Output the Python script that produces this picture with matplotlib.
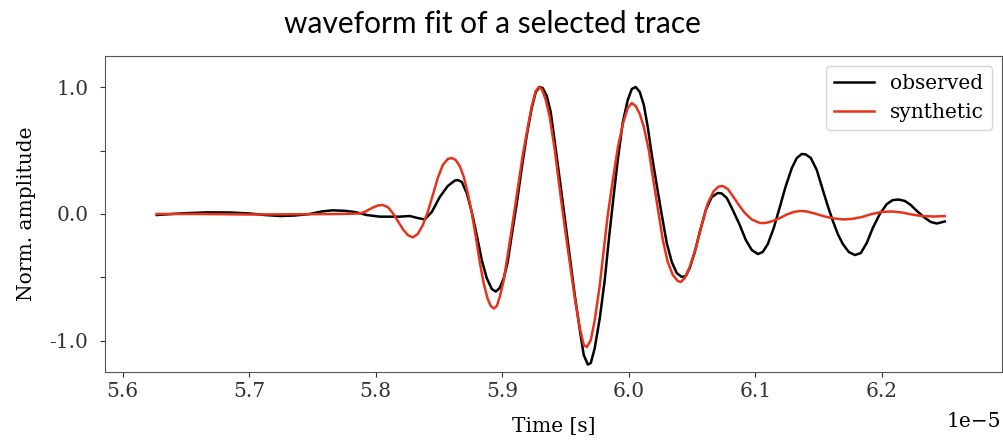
import numpy as np
import matplotlib
matplotlib.use("Agg")
import matplotlib.pyplot as plt

plt.rcParams['font.family'] = ['DejaVu Serif']

# time in units of 1e-5 s, amplitude normalised
t_obs = np.array([5.6269, 5.6451, 5.6664, 5.6846, 5.7004, 5.7123, 5.7241, 5.7360,
                  5.7478, 5.7573, 5.7660, 5.7755, 5.7834, 5.7929, 5.8032, 5.8190,
                  5.8269, 5.8332, 5.8387, 5.8443, 5.8506, 5.8569, 5.8625, 5.8648,
                  5.8680, 5.8719, 5.8759, 5.8798, 5.8838, 5.8877, 5.8917, 5.8949,
                  5.8980, 5.9012, 5.9043, 5.9075, 5.9115, 5.9154, 5.9194, 5.9233,
                  5.9265, 5.9296, 5.9320, 5.9352, 5.9383, 5.9415, 5.9455, 5.9494,
                  5.9534, 5.9573, 5.9613, 5.9644, 5.9676, 5.9700, 5.9731, 5.9771,
                  5.9810, 5.9842, 5.9874, 5.9913, 5.9953, 5.9992, 6.0024, 6.0055,
                  6.0087, 6.0119, 6.0150, 6.0182, 6.0221, 6.0261, 6.0300, 6.0340,
                  6.0379, 6.0419, 6.0451, 6.0482, 6.0522, 6.0561, 6.0609, 6.0656,
                  6.0704, 6.0735, 6.0775, 6.0822, 6.0877, 6.0925, 6.0972, 6.1020,
                  6.1059, 6.1099, 6.1146, 6.1194, 6.1241, 6.1289, 6.1328, 6.1368,
                  6.1399, 6.1439, 6.1486, 6.1534, 6.1573, 6.1613, 6.1652, 6.1692,
                  6.1739, 6.1787, 6.1834, 6.1881, 6.1929, 6.1984, 6.2040, 6.2087,
                  6.2134, 6.2182, 6.2229, 6.2277, 6.2332, 6.2387, 6.2435, 6.2466,
                  6.2498])
a_obs = np.array([-0.008, 0.004, 0.013, 0.012, 0.004, -0.008, -0.016, -0.012,
                  0.000, 0.020, 0.029, 0.025, 0.016, -0.008, -0.021, -0.021,
                  -0.016, -0.032, -0.043, 0.016, 0.134, 0.221, 0.264, 0.268,
                  0.253, 0.166, 0.016, -0.166, -0.363, -0.505, -0.592, -0.612,
                  -0.584, -0.505, -0.379, -0.166, 0.087, 0.363, 0.624, 0.837,
                  0.963, 1.002, 0.994, 0.931, 0.805, 0.568, 0.268, -0.032,
                  -0.339, -0.639, -0.916, -1.113, -1.188, -1.176, -1.058, -0.821,
                  -0.521, -0.205, 0.087, 0.426, 0.726, 0.900, 0.987, 1.002,
                  0.963, 0.860, 0.687, 0.466, 0.229, -0.008, -0.229, -0.379,
                  -0.466, -0.497, -0.489, -0.426, -0.300, -0.142, 0.032, 0.134,
                  0.166, 0.162, 0.126, 0.032, -0.087, -0.205, -0.284, -0.316,
                  -0.300, -0.237, -0.110, 0.055, 0.221, 0.363, 0.442, 0.474,
                  0.470, 0.442, 0.347, 0.189, 0.063, -0.055, -0.158, -0.237,
                  -0.300, -0.324, -0.308, -0.229, -0.110, 0.000, 0.079, 0.110,
                  0.114, 0.103, 0.071, 0.024, -0.024, -0.063, -0.075, -0.067,
                  -0.059])

t_syn = np.array([5.6269, 5.6609, 5.7004, 5.7399, 5.7715, 5.7874, 5.7921, 5.7968,
                  5.8016, 5.8055, 5.8095, 5.8134, 5.8174, 5.8213, 5.8253, 5.8292,
                  5.8332, 5.8372, 5.8411, 5.8451, 5.8490, 5.8530, 5.8569, 5.8601,
                  5.8632, 5.8664, 5.8696, 5.8727, 5.8759, 5.8791, 5.8822, 5.8854,
                  5.8885, 5.8909, 5.8933, 5.8957, 5.8980, 5.9012, 5.9043, 5.9083,
                  5.9123, 5.9162, 5.9202, 5.9233, 5.9265, 5.9289, 5.9312, 5.9344,
                  5.9375, 5.9415, 5.9455, 5.9494, 5.9534, 5.9573, 5.9613, 5.9644,
                  5.9668, 5.9700, 5.9731, 5.9771, 5.9802, 5.9834, 5.9874, 5.9913,
                  5.9953, 5.9992, 6.0024, 6.0055, 6.0087, 6.0119, 6.0158, 6.0190,
                  6.0229, 6.0269, 6.0308, 6.0348, 6.0387, 6.0411, 6.0443, 6.0482,
                  6.0530, 6.0577, 6.0625, 6.0672, 6.0711, 6.0743, 6.0783, 6.0822,
                  6.0870, 6.0917, 6.0972, 6.1036, 6.1083, 6.1138, 6.1194, 6.1249,
                  6.1304, 6.1352, 6.1407, 6.1470, 6.1549, 6.1628, 6.1692, 6.1763,
                  6.1842, 6.1921, 6.2000, 6.2079, 6.2158, 6.2237, 6.2316, 6.2419,
                  6.2498])
a_syn = np.array([0.000, 0.000, -0.004, -0.002, 0.000, 0.004, 0.020, 0.047,
                  0.067, 0.071, 0.055, 0.008, -0.055, -0.118, -0.166, -0.185,
                  -0.158, -0.087, 0.016, 0.150, 0.284, 0.387, 0.434, 0.442,
                  0.426, 0.379, 0.292, 0.166, 0.008, -0.182, -0.379, -0.552,
                  -0.671, -0.726, -0.746, -0.726, -0.655, -0.521, -0.324, -0.063,
                  0.205, 0.466, 0.687, 0.852, 0.971, 1.002, 0.987, 0.900,
                  0.766, 0.505, 0.189, -0.103, -0.387, -0.663, -0.900, -1.034,
                  -1.050, -0.995, -0.837, -0.560, -0.284, -0.008, 0.268, 0.521,
                  0.710, 0.837, 0.876, 0.852, 0.789, 0.687, 0.505, 0.292,
                  0.047, -0.205, -0.379, -0.481, -0.529, -0.537, -0.505, -0.418,
                  -0.268, -0.087, 0.087, 0.182, 0.217, 0.221, 0.197, 0.142,
                  0.071, 0.008, -0.043, -0.071, -0.071, -0.055, -0.032, -0.004,
                  0.016, 0.024, 0.020, 0.004, -0.020, -0.036, -0.043, -0.039,
                  -0.024, 0.000, 0.016, 0.020, 0.012, -0.004, -0.016, -0.020,
                  -0.016])

yticks = [-1.0, -0.5, 0.0, 0.5, 1.0]
yticklabels = ['-1.0', '', '0.0', '', '1.0']

fig = plt.figure(figsize=(10.04, 4.41), dpi=100)
ax = fig.add_axes([0.1046, 0.1565, 0.8934, 0.7165])

ax.plot(t_obs * 1e-5, a_obs, color='black', lw=1.8, label='observed')
ax.plot(t_syn * 1e-5, a_syn, color='#e8331c', lw=1.8, label='synthetic')

ax.set_xlim(5.586e-5, 6.295e-5)
ax.set_ylim(-1.247, 1.247)
ax.set_yticks(yticks)
ax.set_yticklabels(yticklabels)
ax.tick_params(labelsize=14.5, colors='#333333')
ax.tick_params(axis='y', pad=8.5)
for s in ax.spines.values():
    s.set_color('#555555')

# offset label placed by hand, a bit lower than matplotlib puts it
ax.xaxis.get_offset_text().set_visible(False)
ax.annotate('1e\u22125', xy=(1, 0), xycoords='axes fraction', xytext=(-1, -29),
            textcoords='offset points', ha='right', va='top', fontsize=14.5)

ax.set_xlabel('Time [s]', fontsize=14.5, labelpad=12)
ax.set_ylabel('Norm. amplitude', fontsize=14.5, labelpad=10)
ax.legend(loc='upper right', fontsize=14.5)

fig.text(0.49, 0.945, 'waveform fit of a selected trace', ha='center', va='center',
         fontsize=21.5, family='Lato')

fig.savefig('out.png', dpi=100)
